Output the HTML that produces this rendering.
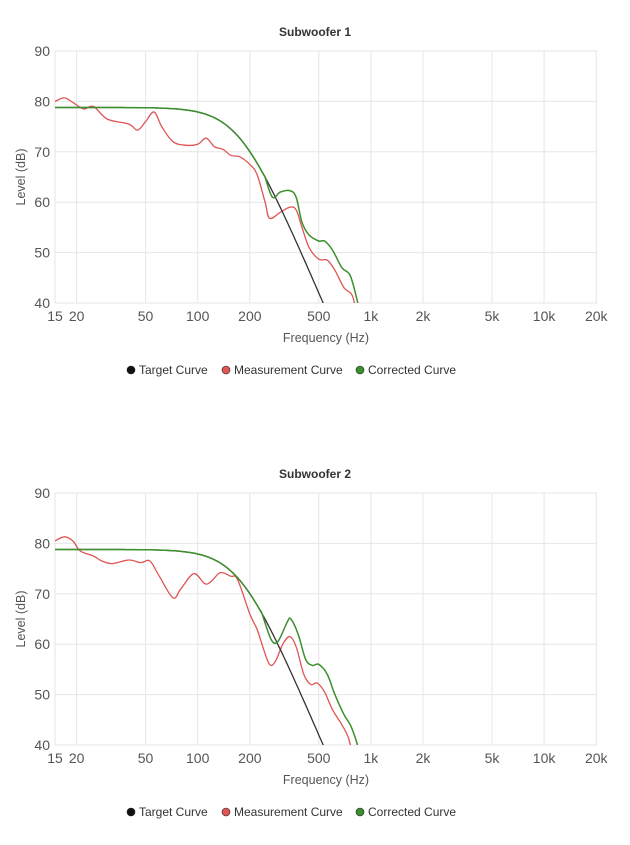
<!DOCTYPE html>
<html><head><meta charset="utf-8"><style>
body{margin:0;background:#fff;width:630px;height:840px;overflow:hidden;font-family:"Liberation Sans",sans-serif}
svg text{font-family:"Liberation Sans",sans-serif}
</style></head><body>
<svg id="s" width="630" height="840" xmlns="http://www.w3.org/2000/svg"></svg>
<script>
const S=document.getElementById('s');
let out='';
const X0=55,K=173.2,L15=Math.log10(15),X1=597;
const fx=f=>X0+(Math.log10(f)-L15)*K;
function target(f){return 78.8-20*Math.log10(1+Math.pow(f/174,4));}
function path(pts){
  let d='M'+pts[0][0].toFixed(1)+','+pts[0][1].toFixed(1);
  for(let i=0;i<pts.length-1;i++){
    const p0=pts[i-1]||pts[i],p1=pts[i],p2=pts[i+1],p3=pts[i+2]||p2;
    const c1=[p1[0]+(p2[0]-p0[0])/6,p1[1]+(p2[1]-p0[1])/6];
    const c2=[p2[0]-(p3[0]-p1[0])/6,p2[1]-(p3[1]-p1[1])/6];
    d+=`C${c1[0].toFixed(1)},${c1[1].toFixed(1)} ${c2[0].toFixed(1)},${c2[1].toFixed(1)} ${p2[0].toFixed(1)},${p2[1].toFixed(1)}`;
  }
  return d;
}
function chart(top,title,meas,corr){
  const bot=top+252, fy=v=>top+(90-v)*5.04;
  out+=`<text x="315" y="${top-15}" text-anchor="middle" font-size="12" font-weight="bold" fill="#333">${title}</text>`;
  for(let v=40;v<=90;v+=10){const y=fy(v);
    out+=`<line x1="${X0}" x2="${X1}" y1="${y}" y2="${y}" stroke="#e6e6e6"/>`;
    out+=`<text x="${X0-5}" y="${y+5}" text-anchor="end" font-size="14" fill="#555">${v}</text>`;}
  const ticks=[[15,'15'],[20,'20'],[50,'50'],[100,'100'],[200,'200'],[500,'500'],[1000,'1k'],[2000,'2k'],[5000,'5k'],[10000,'10k'],[20000,'20k']];
  ticks.forEach(([f,l])=>{const x=fx(f);
    out+=`<line x1="${x}" x2="${x}" y1="${top}" y2="${bot}" stroke="#e6e6e6"/>`;
    out+=`<text x="${x}" y="${bot+18}" text-anchor="middle" font-size="14" fill="#555">${l}</text>`;});
  out+=`<text x="326" y="${bot+39}" text-anchor="middle" font-size="12.5" fill="#555">Frequency (Hz)</text>`;
  out+=`<text transform="translate(25,${(top+bot)/2}) rotate(-90)" text-anchor="middle" font-size="12.5" fill="#555">Level (dB)</text>`;
  const clip=`c${top}`;
  out+=`<clipPath id="${clip}"><rect x="${X0}" y="${top}" width="${X1-X0}" height="252"/></clipPath>`;
  const toP=a=>a.map(([f,v])=>[fx(f),fy(v)]);
  let t=[];for(let f=15;f<=560;f*=1.04)t.push([f,target(f)]);
  const cut=corr[0][0];let c=[];for(let f=15;f<cut;f*=1.05)c.push([f,target(f)]);c.push([cut,target(cut)]);c=c.concat(corr.slice(1));
  out+=`<g clip-path="url(#${clip})" fill="none" stroke-width="1.3">`;
  out+=`<path d="${path(toP(meas))}" stroke="#e05555"/>`;
  out+=`<path d="${path(toP(t))}" stroke="#333"/>`;
  out+=`<path d="${path(toP(c))}" stroke="#3d8f2e" stroke-width="1.5"/>`;
  out+=`</g>`;
  const ly=bot+71;
  [[131,'#111','Target Curve'],[226,'#e05555','Measurement Curve'],[360,'#3d8f2e','Corrected Curve']].forEach(([x,col,l])=>{
    out+=`<circle cx="${x}" cy="${ly-4}" r="4" fill="${col}" stroke="#222" stroke-width="0.6"/>`;
    out+=`<text x="${x+8}" y="${ly}" font-size="12" fill="#333">${l}</text>`;});
}
chart(51,'Subwoofer 1',
[[15,80],[17,80.7],[19,79.8],[22,78.5],[25,79],[30,76.5],[40,75.5],[45,74.3],[50,76],[56,77.9],[62,75],[72,72],[85,71.3],[100,71.5],[112,72.7],[125,71],[140,70.5],[155,69.3],[175,69],[200,67.5],[220,65.5],[245,60],[260,56.8],[300,58],[340,59],[370,58.5],[400,55],[440,51],[500,48.7],[560,48.5],[620,46.5],[700,43],[780,41.5],[840,37]],
[[245,0],[270,61],[300,62],[340,62.3],[370,61],[400,56],[440,53.5],[500,52.3],[540,52.3],[600,50.5],[680,47],[750,45.8],[800,43],[880,37]]);
chart(493,'Subwoofer 2',
[[15,80.5],[17,81.3],[19,80.5],[21,78.5],[25,77.5],[28,76.5],[32,76],[40,76.7],[47,76.2],[53,76.5],[60,73.5],[72,69.2],[80,71],[95,74],[110,72],[120,72.5],[135,74.2],[155,73.5],[170,72.8],[200,66],[220,63],[240,59],[260,56],[280,56.5],[310,60],[340,61.5],[370,59.5],[410,54],[450,52],[490,52.3],[540,50.5],[600,47],[680,44],[740,41.5],[800,37]],
[[235,0],[265,61],[290,60.5],[330,64.5],[345,65],[380,62],[420,57],[460,55.8],[500,56],[560,54],[620,50],[700,46],[760,44],[820,41],[880,37]]);
S.innerHTML=out;
</script>
</body></html>
